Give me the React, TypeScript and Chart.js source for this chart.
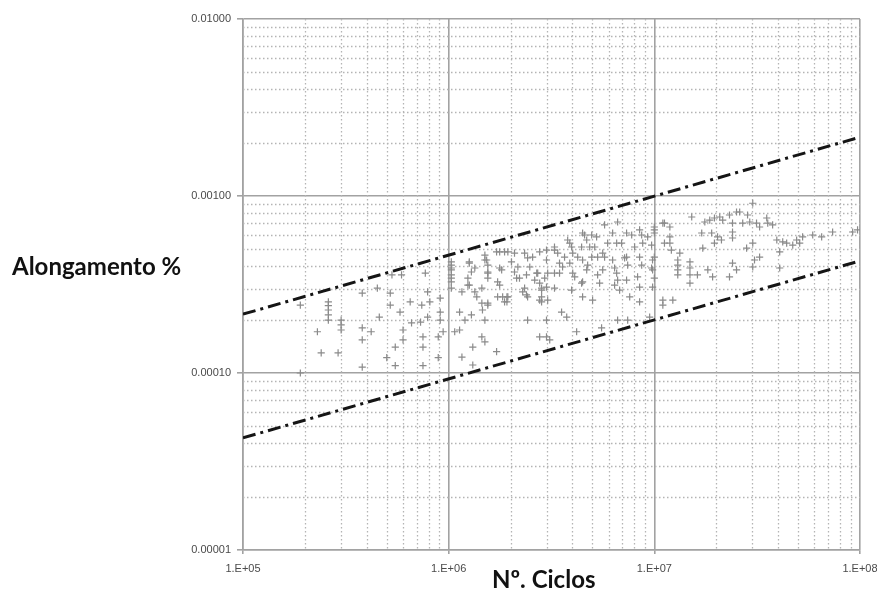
import React, { useEffect, useRef } from "react";
import { Chart, registerables } from "chart.js";

Chart.register(...registerables);

// Axis ranges (log-log)
const cycleRange = [1e5, 1e8];
const strainRange = [1e-5, 1e-2];

// Boundary (dash-dot) lines
const boundCycles = [1e5, 1e8];
const upperBound = [2.15e-4, 2.15e-3];
const lowerBound = [4.3e-5, 4.3e-4];

// Measured points: [number of cycles, elongation %]
const samples: [number, number][] = [
  [1.9e5, 2.42e-4], [1.9e5, 1.0e-4], [2.6e5, 2.52e-4], [2.6e5, 2.4e-4], [2.6e5, 2.27e-4],
  [2.6e5, 2.13e-4], [2.6e5, 1.99e-4], [2.3e5, 1.71e-4], [2.4e5, 1.3e-4], [2.9e5, 1.3e-4],
  [3.0e5, 1.87e-4], [3.0e5, 1.75e-4], [3.0e5, 1.99e-4], [3.8e5, 2.83e-4], [3.8e5, 1.8e-4],
  [3.8e5, 1.54e-4], [3.8e5, 1.08e-4], [4.2e5, 1.71e-4], [4.5e5, 3.02e-4], [4.6e5, 2.07e-4],
  [5.2e5, 2.83e-4], [5.2e5, 2.42e-4], [5.0e5, 1.22e-4], [5.5e5, 1.4e-4], [5.5e5, 1.1e-4],
  [5.8e5, 2.21e-4], [6.0e5, 1.75e-4], [6.0e5, 1.54e-4], [5.3e5, 3.58e-4], [5.9e5, 3.58e-4],
  [6.5e5, 2.52e-4], [6.6e5, 1.92e-4], [7.4e5, 2.42e-4], [7.7e5, 3.67e-4], [7.9e5, 2.87e-4],
  [7.3e5, 1.94e-4], [7.9e5, 2.07e-4], [7.5e5, 1.6e-4], [7.5e5, 1.4e-4], [7.5e5, 1.1e-4],
  [8.1e5, 2.52e-4], [8.9e5, 1.6e-4], [9.1e5, 2.65e-4], [9.1e5, 2.21e-4], [9.1e5, 1.99e-4],
  [8.9e5, 1.22e-4], [9.4e5, 1.71e-4],
  [1.03e6, 4.07e-4], [1.03e6, 3.82e-4], [1.03e6, 3.58e-4], [1.03e6, 3.27e-4], [1.03e6, 3.02e-4],
  [1.26e6, 4.18e-4], [1.29e6, 3.72e-4], [1.26e6, 3.14e-4], [1.16e6, 2.87e-4], [1.34e6, 2.87e-4],
  [1.13e6, 2.21e-4], [1.2e6, 1.99e-4], [1.29e6, 2.13e-4], [1.46e6, 2.27e-4], [1.45e6, 2.48e-4],
  [1.55e6, 2.42e-4], [1.5e6, 1.99e-4], [1.53e6, 4.35e-4], [1.55e6, 4.07e-4], [1.55e6, 3.67e-4],
  [1.77e6, 4.83e-4], [1.94e6, 4.83e-4], [2.02e6, 4.24e-4], [1.81e6, 3.82e-4], [1.77e6, 3.14e-4],
  [1.83e6, 2.69e-4], [1.94e6, 2.69e-4], [1.92e6, 2.52e-4], [2.17e6, 3.97e-4], [2.21e6, 3.44e-4],
  [2.29e6, 2.87e-4], [2.42e6, 2.69e-4], [2.42e6, 1.99e-4], [2.56e6, 4.52e-4], [2.48e6, 3.97e-4],
  [2.71e6, 3.67e-4], [2.77e6, 3.22e-4], [2.83e6, 2.94e-4], [2.77e6, 2.58e-4], [2.99e6, 4.35e-4],
  [3.03e6, 3.67e-4], [2.99e6, 3.06e-4], [3.03e6, 2.58e-4], [2.99e6, 1.99e-4], [2.99e6, 1.6e-4],
  [3.1e6, 1.54e-4], [3.27e6, 5.15e-4], [3.39e6, 4.76e-4], [3.46e6, 4.18e-4], [3.46e6, 3.67e-4],
  [3.54e6, 2.21e-4], [3.75e6, 2.07e-4], [3.79e6, 5.64e-4], [3.96e6, 5.15e-4], [4.01e6, 4.76e-4],
  [3.88e6, 4.18e-4], [4.01e6, 3.67e-4], [3.96e6, 2.94e-4], [4.48e6, 6.18e-4], [4.69e6, 5.64e-4],
  [4.85e6, 5.15e-4], [4.48e6, 4.35e-4], [4.69e6, 3.82e-4], [4.48e6, 3.27e-4], [4.48e6, 2.69e-4],
  [4.19e6, 1.71e-4], [5.01e6, 2.58e-4], [5.24e6, 5.87e-4], [5.3e6, 4.52e-4], [5.61e6, 4.76e-4],
  [5.61e6, 3.82e-4], [5.42e6, 3.22e-4], [5.54e6, 1.8e-4], [6.27e6, 6.18e-4], [6.56e6, 5.42e-4],
  [6.27e6, 4.35e-4], [6.56e6, 3.67e-4], [6.78e6, 2.94e-4], [6.63e6, 1.99e-4], [7.33e6, 6.18e-4],
  [7.33e6, 4.52e-4], [7.33e6, 3.35e-4], [7.59e6, 2.69e-4], [7.42e6, 1.99e-4], [8.48e6, 6.43e-4],
  [8.78e6, 5.42e-4], [8.68e6, 4.07e-4], [8.48e6, 3.06e-4], [8.48e6, 2.52e-4], [9.28e6, 5.87e-4],
  [9.49e6, 2.07e-4], [9.81e6, 3.82e-4], [1.13e6, 1.75e-4], [1.07e6, 1.71e-4], [1.45e6, 1.6e-4],
  [1.5e6, 1.5e-4], [1.31e6, 1.4e-4], [1.71e6, 1.32e-4], [1.16e6, 1.23e-4], [1.31e6, 1.11e-4],
  [2.77e6, 1.6e-4],
  [1.5e6, 4.64e-4], [1.5e6, 4.35e-4], [1.71e6, 4.83e-4], [1.87e6, 4.83e-4], [2.09e6, 4.76e-4],
  [2.34e6, 4.76e-4], [2.42e6, 4.47e-4], [2.77e6, 4.83e-4], [2.99e6, 4.95e-4], [3.27e6, 4.95e-4],
  [1.26e6, 4.24e-4], [1.34e6, 3.92e-4], [1.55e6, 3.72e-4], [1.77e6, 3.92e-4], [2.09e6, 3.72e-4],
  [2.39e6, 3.58e-4], [2.68e6, 3.67e-4], [3.27e6, 3.67e-4], [1.24e6, 3.44e-4], [1.55e6, 3.44e-4],
  [2.14e6, 3.44e-4], [2.62e6, 3.35e-4], [2.93e6, 3.44e-4], [1.73e6, 3.27e-4], [1.24e6, 3.14e-4],
  [1.45e6, 3.02e-4], [2.34e6, 3.02e-4], [2.83e6, 3.02e-4], [3.27e6, 3.02e-4], [1.37e6, 2.69e-4],
  [1.73e6, 2.69e-4], [1.92e6, 2.69e-4], [2.39e6, 2.76e-4], [2.83e6, 2.69e-4], [1.87e6, 2.52e-4],
  [2.83e6, 2.52e-4], [1.55e6, 2.48e-4], [1.03e6, 4.24e-4], [1.03e6, 3.92e-4], [1.03e6, 3.44e-4],
  [4.58e6, 6.02e-4], [4.96e6, 6.02e-4], [5.73e6, 6.86e-4], [6.63e6, 7.13e-4], [7.76e6, 6.02e-4],
  [8.68e6, 6.02e-4], [1.0e7, 6.18e-4], [1.12e7, 7.03e-4], [3.88e6, 5.42e-4], [4.43e6, 5.15e-4],
  [5.13e6, 5.15e-4], [5.93e6, 5.42e-4], [6.93e6, 5.42e-4], [8.02e6, 5.15e-4], [9.7e6, 5.28e-4],
  [1.12e7, 5.42e-4], [3.66e6, 4.52e-4], [4.24e6, 4.52e-4], [4.96e6, 4.52e-4], [5.73e6, 4.52e-4],
  [7.17e6, 4.47e-4], [8.48e6, 4.52e-4], [1.0e7, 4.52e-4], [3.58e6, 3.97e-4], [4.74e6, 4.07e-4],
  [6.41e6, 3.92e-4], [7.42e6, 4.07e-4], [9.7e6, 3.92e-4], [4.1e6, 3.49e-4], [5.3e6, 3.58e-4],
  [6.63e6, 3.35e-4], [8.29e6, 3.49e-4], [1.0e7, 3.44e-4], [4.43e6, 3.22e-4], [6.41e6, 3.14e-4],
  [9.81e6, 3.06e-4],
  [1.0e7, 6.68e-4], [1.0e7, 6.43e-4], [1.1e7, 7.03e-4], [1.19e7, 6.68e-4], [1.19e7, 5.87e-4],
  [1.19e7, 5.42e-4], [1.21e7, 4.95e-4], [9.8e6, 4.35e-4], [1.3e7, 4.35e-4], [1.3e7, 4.07e-4],
  [1.3e7, 3.82e-4], [1.3e7, 3.58e-4], [1.49e7, 4.24e-4], [1.49e7, 3.92e-4], [1.49e7, 3.58e-4],
  [1.49e7, 3.22e-4], [1.1e7, 2.58e-4], [1.1e7, 2.42e-4], [1.23e7, 2.58e-4], [1.62e7, 3.58e-4],
  [1.52e7, 7.61e-4], [1.7e7, 6.18e-4], [1.76e7, 7.13e-4], [1.86e7, 7.31e-4], [1.9e7, 6.18e-4],
  [1.96e7, 7.51e-4], [2.03e7, 5.87e-4], [1.82e7, 3.82e-4], [1.92e7, 3.49e-4], [2.08e7, 7.61e-4],
  [2.15e7, 7.31e-4], [2.32e7, 7.81e-4], [2.4e7, 7.03e-4], [2.6e7, 8.12e-4], [2.69e7, 7.03e-4],
  [2.4e7, 6.26e-4], [2.4e7, 5.79e-4], [2.4e7, 4.18e-4], [2.51e7, 3.82e-4], [2.32e7, 3.49e-4],
  [2.84e7, 7.81e-4], [2.91e7, 7.13e-4], [3.14e7, 7.03e-4], [3.25e7, 6.68e-4], [3.52e7, 7.51e-4],
  [3.56e7, 7.03e-4], [3.76e7, 6.86e-4], [3.01e7, 5.42e-4], [2.81e7, 5.08e-4], [3.07e7, 4.35e-4],
  [3.25e7, 4.52e-4], [3.01e7, 3.97e-4], [3.94e7, 5.64e-4], [4.21e7, 5.5e-4], [4.4e7, 5.42e-4],
  [4.71e7, 5.28e-4], [4.92e7, 5.64e-4], [5.09e7, 5.42e-4], [5.26e7, 5.87e-4], [5.89e7, 6.02e-4],
  [6.51e7, 5.87e-4], [7.36e7, 6.26e-4], [9.21e7, 6.26e-4], [9.73e7, 6.43e-4], [4.07e7, 4.83e-4],
  [4.07e7, 3.92e-4], [3.01e7, 9.1e-4], [2.51e7, 8.12e-4], [1.33e7, 4.76e-4], [1.72e7, 5.08e-4],
  [2.12e7, 5.64e-4], [1.96e7, 5.42e-4],
];

// Tick values: 1..9 per decade, labels only on decades
function decadeTicks(min: number, max: number): number[] {
  const out: number[] = [];
  const e0 = Math.round(Math.log10(min));
  const e1 = Math.round(Math.log10(max));
  for (let e = e0; e < e1; e++) {
    for (let k = 1; k < 10; k++) out.push(Number((k * Math.pow(10, e)).toPrecision(6)));
  }
  out.push(max);
  return out;
}
const xTicks = decadeTicks(cycleRange[0], cycleRange[1]);
const yTicks = decadeTicks(strainRange[0], strainRange[1]);

const isMajor = (v: number | undefined) => {
  if (v === undefined || v === null || !(v > 0)) return false;
  const l = Math.log10(v);
  return Math.abs(l - Math.round(l)) < 1e-6;
};

const MAJOR = "#a2a2a2";
const MINOR = "#b4b4b4";
const TICK_FONT = { family: '"Liberation Sans", Arial, sans-serif', size: 11 };

const minorGridPlugin = {
  id: "minorGrid",
  beforeDatasetsDraw(chart: any) {
    const { ctx, chartArea: a, scales } = chart;
    const x = scales.x;
    const y = scales.y;
    ctx.save();
    ctx.strokeStyle = MINOR;
    ctx.lineWidth = 1.3;
    ctx.setLineDash([1.5, 2.5]);
    for (const v of xTicks) {
      if (isMajor(v)) continue;
      const px = Math.round(x.getPixelForValue(v)) + 0.5;
      ctx.beginPath();
      ctx.moveTo(px, a.top);
      ctx.lineTo(px, a.bottom);
      ctx.stroke();
    }
    for (const v of yTicks) {
      if (isMajor(v)) continue;
      const py = Math.round(y.getPixelForValue(v)) + 0.5;
      ctx.beginPath();
      ctx.moveTo(a.left, py);
      ctx.lineTo(a.right, py);
      ctx.stroke();
    }
    ctx.restore();
  },
};

export default function App() {
  const ref = useRef<HTMLCanvasElement | null>(null);

  useEffect(() => {
    if (!ref.current) return;
    const lineStyle = {
      showLine: true,
      borderColor: "#151515",
      borderWidth: 3,
      borderDash: [13, 5, 3, 5],
      pointRadius: 0,
      fill: false,
    };
    const chart = new Chart(ref.current, {
      type: "scatter",
      data: {
        datasets: [
          {
            label: "upper",
            data: boundCycles.map((n, i) => ({ x: n, y: upperBound[i] })),
            ...lineStyle,
          },
          {
            label: "lower",
            data: boundCycles.map((n, i) => ({ x: n, y: lowerBound[i] })),
            ...lineStyle,
          },
          {
            label: "ensaios",
            data: samples.map(([n, e]) => ({ x: n, y: e })),
            pointStyle: "cross",
            pointRadius: 3.6,
            pointBorderWidth: 1.2,
            borderColor: "#8a8a8a",
            backgroundColor: "#8a8a8a",
            showLine: false,
          },
        ],
      },
      options: {
        responsive: false,
        animation: false,
        events: [],
        layout: { padding: { left: 0, right: 17, top: 19, bottom: 0 } },
        plugins: { legend: { display: false }, tooltip: { enabled: false } },
        scales: {
          x: {
            type: "logarithmic",
            min: cycleRange[0],
            max: cycleRange[1],
            afterBuildTicks: (ax: any) => {
              ax.ticks = xTicks.map((v) => ({ value: v, major: isMajor(v) }));
            },
            afterFit: (ax: any) => {
              ax.height = 51;
              ax.paddingLeft = 0;
              ax.paddingRight = 0;
            },
            grid: {
              color: (c: any) => (isMajor(c.tick?.value) ? MAJOR : "rgba(0,0,0,0)"),
              lineWidth: 1.6,
              tickLength: 4,
            },
            border: { display: true, color: MAJOR, width: 1.6 },
            ticks: {
              autoSkip: false,
              maxRotation: 0,
              minRotation: 0,
              padding: 8,
              color: "#4a4a4a",
              font: TICK_FONT,
              callback: (v: any) =>
                isMajor(Number(v)) ? `1.E+${String(Math.round(Math.log10(Number(v)))).padStart(2, "0")}` : "",
            },
          },
          y: {
            type: "logarithmic",
            min: strainRange[0],
            max: strainRange[1],
            afterBuildTicks: (ax: any) => {
              ax.ticks = yTicks.map((v) => ({ value: v, major: isMajor(v) }));
            },
            afterFit: (ax: any) => {
              ax.width = 243;
              ax.paddingTop = 0;
              ax.paddingBottom = 0;
            },
            grid: {
              color: (c: any) => (isMajor(c.tick?.value) ? MAJOR : "rgba(0,0,0,0)"),
              lineWidth: 1.6,
              tickLength: 6,
            },
            border: { display: true, color: MAJOR, width: 1.6 },
            ticks: {
              autoSkip: false,
              padding: 6,
              color: "#4a4a4a",
              font: TICK_FONT,
              callback: (v: any) => (isMajor(Number(v)) ? Number(v).toFixed(5) : ""),
            },
          },
        },
      },
      plugins: [minorGridPlugin],
    } as any);
    return () => chart.destroy();
  }, []);

  const titleStyle: React.CSSProperties = {
    position: "absolute",
    fontFamily: "Lato, 'Open Sans', sans-serif",
    fontWeight: 700,
    fontSize: 24,
    lineHeight: "24px",
    color: "#111",
    whiteSpace: "nowrap",
  };

  return (
    <div
      style={{
        position: "fixed",
        left: 0,
        top: 0,
        width: 877,
        height: 601,
        background: "#fff",
        overflow: "hidden",
      }}
    >
      <canvas ref={ref} width={877} height={601} style={{ position: "absolute", left: 0, top: 0 }} />
      <div style={{ ...titleStyle, left: 12, top: 254 }}>Alongamento %</div>
      <div style={{ ...titleStyle, left: 492, top: 567 }}>Nº. Ciclos</div>
    </div>
  );
}
